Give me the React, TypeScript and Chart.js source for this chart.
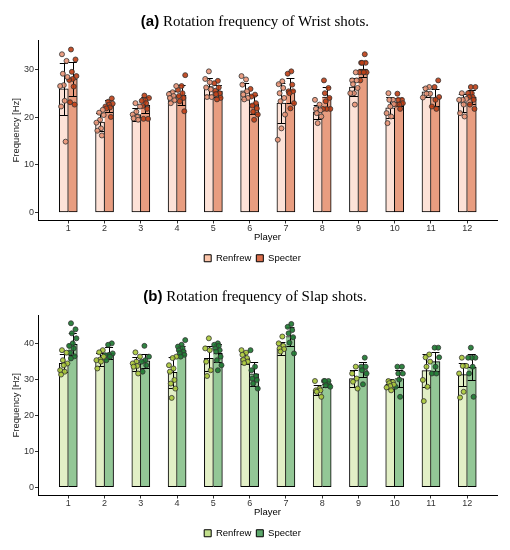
import React, { useEffect, useRef } from "react";
import { Chart, registerables } from "chart.js";

Chart.register(...registerables);

// ---------- data ----------
const players = [1, 2, 3, 4, 5, 6, 7, 8, 9, 10, 11, 12];
const seriesNames = ["Renfrew", "Specter"];
const wristTicks = [0, 10, 20, 30];
const slapTicks = [0, 10, 20, 30, 40];

const wristRenfrewMean = [26.0, 19.0, 20.6, 24.5, 26.5, 25.6, 23.0, 21.2, 26.4, 22.0, 25.4, 23.1];
const wristRenfrewSD = [5.5, 1.9, 1.4, 1.0, 1.8, 1.7, 4.2, 1.5, 1.9, 2.2, 1.05, 1.9];
const wristSpecterMean = [28.1, 22.4, 22.6, 24.7, 25.5, 22.8, 25.7, 24.3, 30.2, 23.2, 24.2, 24.3];
const wristSpecterSD = [3.65, 1.2, 1.65, 2.1, 1.25, 2.0, 2.6, 2.1, 1.7, 0.85, 1.75, 1.5];

const wristRenfrewShots = [
  [33.3, 31.9, 29.2, 28.5, 26.8, 26.6, 23.5, 22.3, 14.9],
  [21.6, 21.0, 20.5, 19.5, 18.9, 17.7, 17.2, 16.2],
  [23.0, 22.3, 21.2, 20.6, 20.1, 19.8, 19.5],
  [26.6, 25.3, 24.9, 24.5, 24.1, 23.6, 23.0],
  [29.7, 28.1, 27.4, 26.3, 25.9, 24.3, 24.3],
  [28.7, 28.0, 26.9, 25.5, 24.8, 24.1, 23.8],
  [27.6, 27.0, 26.2, 25.1, 24.1, 23.4, 20.6, 17.7, 15.3],
  [23.7, 22.7, 21.8, 21.5, 20.9, 20.2, 18.8],
  [29.5, 27.8, 27.8, 27.0, 26.2, 25.1, 25.1, 22.7],
  [25.1, 23.7, 23.7, 22.8, 22.3, 20.9, 20.2, 18.8],
  [26.4, 26.1, 25.0, 25.0, 24.2],
  [25.1, 23.9, 23.7, 23.7, 22.7, 20.9, 20.2],
];
const wristSpecterShots = [
  [34.3, 32.2, 29.6, 28.7, 28.1, 27.9, 26.5, 23.2, 22.7],
  [24.0, 23.3, 22.9, 22.7, 22.3, 22.1, 21.9, 20.1],
  [24.6, 24.1, 23.6, 23.5, 23.0, 22.4, 21.8, 19.7, 19.7],
  [28.9, 26.6, 25.8, 25.1, 24.5, 24.1, 23.4, 21.3],
  [27.7, 27.2, 26.3, 25.6, 25.1, 24.9, 24.1, 23.8],
  [26.0, 24.8, 24.4, 23.0, 22.5, 21.9, 21.2, 20.6, 19.5],
  [29.7, 29.2, 26.9, 25.5, 25.5, 25.1, 23.0, 21.9],
  [27.8, 26.2, 25.1, 24.1, 23.4, 21.8, 21.8, 21.8],
  [33.3, 31.5, 31.5, 31.5, 29.5, 29.5, 29.5, 29.5, 27.8],
  [25.0, 23.7, 23.7, 23.0, 22.7, 22.7, 21.8],
  [27.8, 26.4, 24.3, 23.7, 22.3, 21.8],
  [26.4, 26.4, 25.1, 25.1, 24.3, 24.3, 23.7, 22.7, 21.8],
];

const slapRenfrewMean = [34.5, 35.6, 34.4, 32.0, 35.9, 36.0, 38.6, 27.0, 30.3, 28.7, 32.5, 31.4];
const slapRenfrewSD = [2.5, 1.9, 2.0, 4.3, 3.5, 1.55, 1.8, 1.4, 2.3, 1.4, 4.5, 3.1];
const slapSpecterMean = [39.8, 37.3, 35.2, 38.2, 37.3, 31.6, 42.0, 28.7, 32.8, 30.3, 35.0, 33.4];
const slapSpecterSD = [3.05, 1.7, 1.95, 1.3, 2.5, 3.4, 2.6, 0.9, 2.2, 2.3, 2.6, 3.6];

const slapRenfrewShots = [
  [38.2, 37.5, 35.4, 34.5, 34.0, 32.6, 32.2, 31.4],
  [38.2, 37.6, 36.4, 35.6, 35.4, 35.0, 33.1],
  [37.6, 36.4, 35.0, 34.5, 33.8, 33.6, 31.7],
  [36.4, 36.0, 34.0, 33.1, 32.2, 29.9, 28.9, 27.5, 24.9],
  [41.5, 38.7, 38.2, 35.0, 32.6, 31.0],
  [38.2, 37.5, 36.9, 36.0, 35.5, 35.0, 34.6],
  [42.0, 40.1, 39.4, 38.7, 38.5, 37.8],
  [29.6, 27.5, 27.0, 27.0, 26.6, 25.2],
  [33.6, 31.7, 30.3, 29.4, 27.5],
  [29.6, 29.3, 29.0, 28.6, 28.2, 27.8, 27.0],
  [37.0, 36.2, 35.0, 33.6, 29.9, 28.0, 24.0],
  [36.1, 33.8, 33.8, 31.7, 26.6, 25.0],
];
const slapSpecterShots = [
  [45.7, 44.0, 42.9, 41.5, 40.1, 39.4, 38.7, 37.5, 36.5, 35.9],
  [40.1, 39.7, 37.3, 36.9, 36.8, 36.4, 35.4],
  [39.4, 36.4, 35.4, 35.0, 34.0, 32.2],
  [41.0, 39.7, 39.2, 38.7, 38.2, 37.8, 37.3, 36.9, 36.4],
  [40.1, 39.7, 39.4, 38.7, 38.2, 37.8, 36.4, 35.4, 34.0, 32.6],
  [38.2, 33.6, 32.6, 31.0, 30.3, 29.9, 28.9, 27.5],
  [45.5, 44.7, 43.8, 42.9, 41.8, 40.3, 37.3],
  [29.6, 29.6, 29.6, 28.4, 28.4, 28.0],
  [36.1, 33.6, 33.6, 32.6, 31.7, 28.7],
  [33.6, 33.6, 31.7, 31.7, 30.0, 28.0, 25.2],
  [38.9, 38.9, 36.2, 33.6, 31.7, 31.7],
  [38.9, 36.1, 36.1, 36.1, 33.6, 31.7, 25.2],
];

// ---------- styling ----------
const SANS = '"Liberation Sans", Arial, sans-serif';
const SERIF = '"Liberation Serif", "Times New Roman", serif';

type Panel = {
  label: string;
  title: string;
  renfrewMean: number[];
  renfrewSD: number[];
  specterMean: number[];
  specterSD: number[];
  renfrewShots: number[][];
  specterShots: number[][];
  yTicks: number[];
  yMin: number;
  yMax: number;
  barColors: string[];
  legendColors: string[];
  pointColors: string[];
};

const panels: Panel[] = [
  {
    label: "(a)",
    title: "Rotation frequency of Wrist shots.",
    renfrewMean: wristRenfrewMean,
    renfrewSD: wristRenfrewSD,
    specterMean: wristSpecterMean,
    specterSD: wristSpecterSD,
    renfrewShots: wristRenfrewShots,
    specterShots: wristSpecterShots,
    yTicks: wristTicks,
    yMin: -1.7,
    yMax: 36.3,
    barColors: ["#fde2d7", "#e89d80"],
    legendColors: ["#fcc5aa", "#da6e4b"],
    pointColors: ["rgba(232,148,118,0.9)", "rgba(190,62,20,0.9)"],
  },
  {
    label: "(b)",
    title: "Rotation frequency of Slap shots.",
    renfrewMean: slapRenfrewMean,
    renfrewSD: slapRenfrewSD,
    specterMean: slapSpecterMean,
    specterSD: slapSpecterSD,
    renfrewShots: slapRenfrewShots,
    specterShots: slapSpecterShots,
    yTicks: slapTicks,
    yMin: -2.3,
    yMax: 48.0,
    barColors: ["#e2efc6", "#93c796"],
    legendColors: ["#c2df8c", "#5ca86b"],
    pointColors: ["rgba(170,200,60,0.92)", "rgba(30,122,50,0.92)"],
  },
];

const SERIES_OFFSET = 0.124; // half a bar, in player units
function jitter(k: number) {
  return ((((k * 5 + 2) % 9) - 4) / 4) * 0.1;
}

function shotPoints(shots: number[][], side: number) {
  const pts: { x: number; y: number }[] = [];
  shots.forEach((list, i) => {
    list.forEach((v, k) => {
      pts.push({ x: players[i] + side * SERIES_OFFSET + jitter(k + i), y: v });
    });
  });
  return pts;
}

const errorBarPlugin = {
  id: "errorBars",
  afterDatasetDraw(chart: any, args: any) {
    const ds = chart.data.datasets[args.index];
    if (!ds.sd) return;
    const yScale = chart.scales.y;
    const ctx = chart.ctx;
    ctx.save();
    ctx.strokeStyle = "#000";
    ctx.lineWidth = 1;
    args.meta.data.forEach((bar: any, i: number) => {
      const m = ds.data[i].y;
      const s = ds.sd[i];
      const yt = Math.round(yScale.getPixelForValue(m + s)) + 0.5;
      const yb = Math.round(yScale.getPixelForValue(m - s)) + 0.5;
      const half = bar.width / 2 - 0.5;
      const cx = Math.round(bar.x) + 0.5;
      ctx.beginPath();
      ctx.moveTo(cx, yt);
      ctx.lineTo(cx, yb);
      ctx.moveTo(bar.x - half, yt);
      ctx.lineTo(bar.x + half, yt);
      ctx.moveTo(bar.x - half, yb);
      ctx.lineTo(bar.x + half, yb);
      ctx.stroke();
    });
    ctx.restore();
  },
};

function buildConfig(p: Panel): any {
  const tickFont = { family: SANS, size: 9 };
  const titleFont = { family: SANS, size: 9.5 };
  return {
    type: "bar",
    data: {
      datasets: [
        {
          type: "scatter",
          label: "Renfrew shots",
          data: shotPoints(p.renfrewShots, -1),
          pointRadius: 2.5,
          pointBackgroundColor: p.pointColors[0],
          pointBorderColor: "#333",
          pointBorderWidth: 0.8,
          order: 1,
        },
        {
          type: "scatter",
          label: "Specter shots",
          data: shotPoints(p.specterShots, 1),
          pointRadius: 2.5,
          pointBackgroundColor: p.pointColors[1],
          pointBorderColor: "#333",
          pointBorderWidth: 0.8,
          order: 1,
        },
        {
          type: "bar",
          label: seriesNames[0],
          data: players.map((x, i) => ({ x, y: p.renfrewMean[i] })),
          sd: p.renfrewSD,
          backgroundColor: p.barColors[0],
          borderColor: "#000",
          borderWidth: 1,
          borderSkipped: false,
          barThickness: 9,
          order: 2,
        },
        {
          type: "bar",
          label: seriesNames[1],
          data: players.map((x, i) => ({ x, y: p.specterMean[i] })),
          sd: p.specterSD,
          backgroundColor: p.barColors[1],
          borderColor: "#000",
          borderWidth: { top: 1, right: 1, bottom: 1, left: 0 },
          borderSkipped: false,
          barThickness: 9,
          order: 2,
        },
      ],
    },
    options: {
      responsive: false,
      animation: false,
      devicePixelRatio: 1,
      layout: { padding: { left: 8, right: 13, top: 40, bottom: 2 } },
      plugins: {
        tooltip: { enabled: false },
        title: { display: false },
        legend: {
          position: "bottom",
          labels: {
            boxWidth: 7,
            boxHeight: 7,
            padding: 5,
            font: titleFont,
            color: "#000",
            generateLabels: () =>
              seriesNames.map((n, i) => ({
                text: n,
                fillStyle: p.legendColors[i],
                strokeStyle: "#000",
                lineWidth: 1,
                hidden: false,
                datasetIndex: i + 2,
                fontColor: "#000",
              })),
          },
        },
      },
      scales: {
        x: {
          type: "linear",
          offset: false,
          min: 0.165,
          max: 12.82,
          afterBuildTicks: (s: any) => {
            s.ticks = players.map((v) => ({ value: v }));
          },
          afterFit: (s: any) => {
            s.height = 28;
          },
          ticks: {
            font: tickFont,
            color: "#333",
            padding: 0,
            autoSkip: false,
            maxRotation: 0,
            callback: (v: any) => String(v),
          },
          grid: { display: true, offset: false, drawOnChartArea: false, drawTicks: true, tickLength: 3, color: "#333" },
          border: { display: true, color: "#000", width: 1 },
          title: { display: true, text: "Player", font: titleFont, color: "#000", padding: { top: 0, bottom: 5 } },
        },
        y: {
          type: "linear",
          min: p.yMin,
          max: p.yMax,
          afterBuildTicks: (s: any) => {
            s.ticks = p.yTicks.map((v) => ({ value: v }));
          },
          afterFit: (s: any) => {
            s.width = 30;
          },
          ticks: { font: tickFont, color: "#333", padding: 1 },
          grid: { display: true, drawOnChartArea: false, drawTicks: true, tickLength: 3, color: "#333" },
          border: { display: true, color: "#000", width: 1 },
          title: { display: true, text: "Frequency [Hz]", font: titleFont, color: "#222", padding: { top: 3, bottom: 0 } },
        },
      },
    },
    plugins: [errorBarPlugin],
  };
}

function PanelChart({ panel }: { panel: Panel }) {
  const ref = useRef<HTMLCanvasElement>(null);
  useEffect(() => {
    if (!ref.current) return;
    const chart = new Chart(ref.current, buildConfig(panel));
    return () => chart.destroy();
  }, [panel]);
  return (
    <div style={{ position: "relative", width: 510, height: 275 }}>
      <canvas ref={ref} width={510} height={275} style={{ display: "block", width: 510, height: 275 }} />
      <div
        style={{
          position: "absolute",
          left: 0,
          top: 11,
          width: 510,
          textAlign: "center",
          fontFamily: SERIF,
          fontSize: 15,
          lineHeight: "20px",
          color: "#000",
          whiteSpace: "nowrap",
        }}
      >
        <span style={{ fontFamily: SANS, fontWeight: "bold" }}>{panel.label}</span> {panel.title}
      </div>
    </div>
  );
}

export default function App() {
  return (
    <div style={{ position: "absolute", left: 0, top: 0, width: 510, height: 550, background: "#fff" }}>
      {panels.map((p) => (
        <PanelChart key={p.label} panel={p} />
      ))}
    </div>
  );
}
